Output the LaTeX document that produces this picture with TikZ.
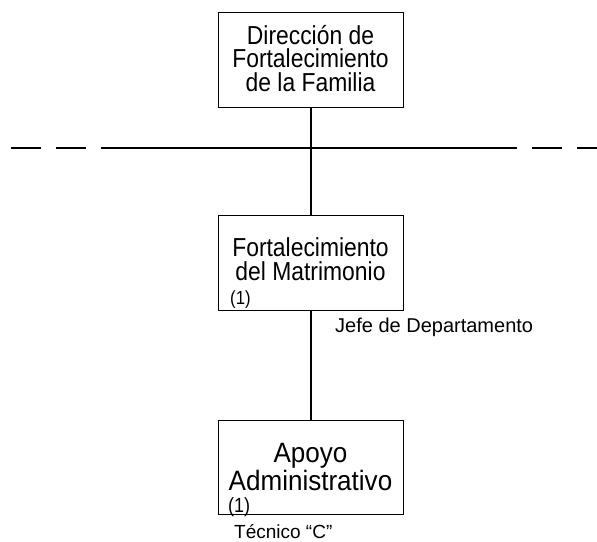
\documentclass[tikz,border=0pt]{standalone}
\usepackage{fontspec}
\setmainfont{Liberation Sans}
\newfontfamily\boxfont{Liberation Sans}[FakeStretch=0.88]
\newfontfamily\bigboxfont{Liberation Sans}[FakeStretch=0.93]
\begin{document}
\begin{tikzpicture}[x=1pt,y=-1pt,
  orgbox/.style={draw=black,line width=1pt,minimum width=185pt,minimum height=95pt,inner sep=0pt},
  conn/.style={draw=black,line width=2pt},
  hline/.style={draw=black,line width=1.8pt},
  hdash/.style={hline,dash pattern=on 30pt off 15pt},
  boxtxt/.style={font=\boxfont\fontsize{26}{23.5}\selectfont,align=center,inner sep=0pt,anchor=base},
  bigtxt/.style={font=\bigboxfont\fontsize{28}{26}\selectfont,align=center,inner sep=0pt,anchor=base},
  numtxt/.style={font=\boxfont\fontsize{19}{19}\selectfont,inner sep=0pt,anchor=base west},
  captxt/.style={font=\fontsize{20}{20}\selectfont,inner sep=0pt,anchor=base west}]
\useasboundingbox (0,0) rectangle (597,541);
% boxes
\node[orgbox] (dir) at (310.5,59.5) {};
\node[orgbox] (mat) at (310.5,262.5) {};
\node[orgbox,minimum height=94pt] (apo) at (310.5,467) {};
% texts
\node[boxtxt] (dirtxt) at (310.5,91) {Dirección de\\Fortalecimiento\\de la Familia};
\node[boxtxt] (mattxt) at (310.5,280) {Fortalecimiento\\del Matrimonio};
\node[numtxt] (matnum) at (230,304) {(1)};
\node[bigtxt] (apotxt) at (310.5,490) {Apoyo\\Administrativo};
\node[numtxt,font=\boxfont\fontsize{20.5}{20.5}\selectfont] (aponum) at (228,512) {(1)};
\node[captxt] (jefe) at (335,332) {Jefe de Departamento};
\node[captxt,font=\fontsize{19}{19}\selectfont] (tec) at (234,538) {Técnico “C”};
% horizontal line
\coordinate (l0) at (11,148);
\coordinate (l1) at (102,148);
\coordinate (r1) at (517,148);
\coordinate (r2) at (532,148);
\coordinate (r3) at (597,148);
\draw[hdash] (l0) -- (l1);
\draw[hline] (l1) -- (r1);
\draw[hdash] (r2) -- (r3);
% connectors
\draw[conn] (dir.south) -- (mat.north);
\draw[conn] (mat.south) -- (apo.north);
\end{tikzpicture}
\end{document}
